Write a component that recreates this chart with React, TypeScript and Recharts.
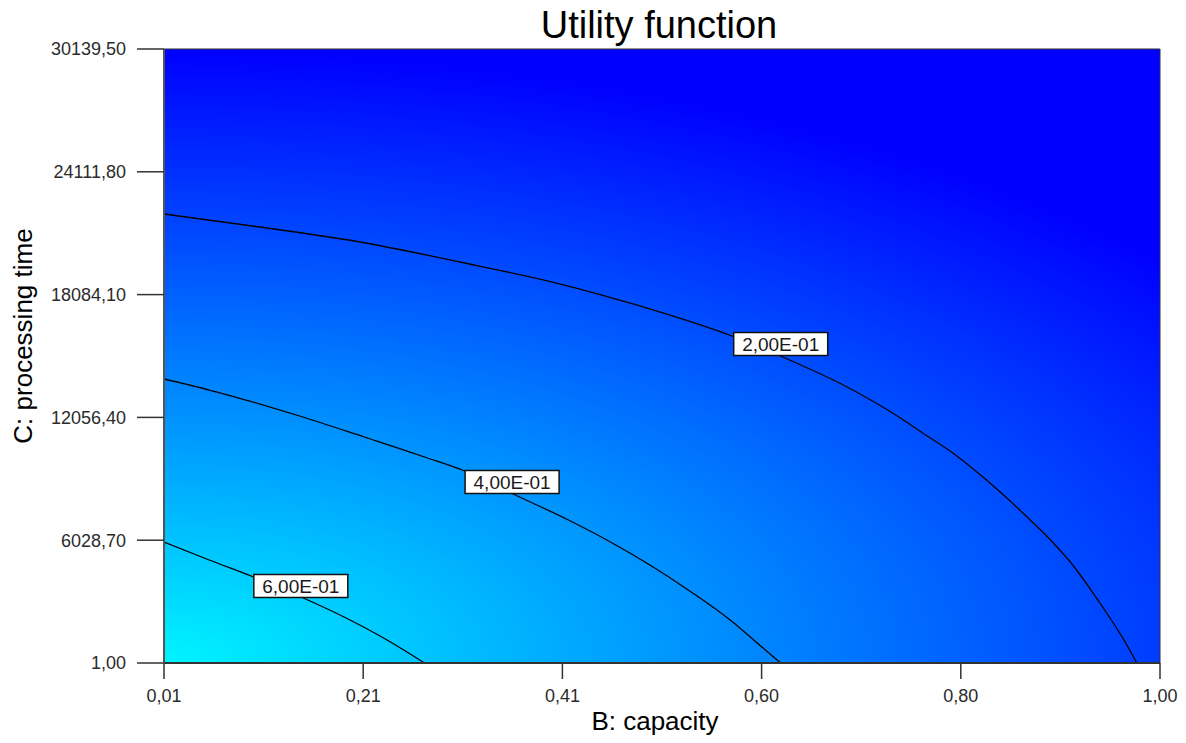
import React from 'react';
import {
  ComposedChart,
  Line,
  Scatter,
  XAxis,
  YAxis,
  ReferenceArea,
  Customized,
  Label,
} from 'recharts';

// Axis ticks
const xTickValues = [0.01, 0.208, 0.406, 0.604, 0.802, 1.0];
const xTickLabels = ['0,01', '0,21', '0,41', '0,60', '0,80', '1,00'];
const yTickValues = [1, 6028.7, 12056.4, 18084.1, 24111.8, 30139.5];
const yTickLabels = ['1,00', '6028,70', '12056,40', '18084,10', '24111,80', '30139,50'];

// Contour lines (B: capacity, C: processing time)
const contour02 = [
  { x: 0.01, y: 22040 },
  { x: 0.105, y: 21403 },
  { x: 0.205, y: 20666 },
  { x: 0.304, y: 19684 },
  { x: 0.404, y: 18604 },
  { x: 0.483, y: 17525 },
  { x: 0.577, y: 16003 },
  { x: 0.625, y: 15021 },
  { x: 0.689, y: 13549 },
  { x: 0.742, y: 12027 },
  { x: 0.764, y: 11291 },
  { x: 0.794, y: 10309 },
  { x: 0.831, y: 8836 },
  { x: 0.871, y: 7020 },
  { x: 0.894, y: 5891 },
  { x: 0.914, y: 4762 },
  { x: 0.93, y: 3682 },
  { x: 0.947, y: 2455 },
  { x: 0.963, y: 1228 },
  { x: 0.977, y: 1 },
];
const contour04 = [
  { x: 0.01, y: 13942 },
  { x: 0.055, y: 13401 },
  { x: 0.148, y: 12076 },
  { x: 0.209, y: 11094 },
  { x: 0.269, y: 10113 },
  { x: 0.309, y: 9426 },
  { x: 0.357, y: 8296 },
  { x: 0.412, y: 7020 },
  { x: 0.452, y: 5990 },
  { x: 0.493, y: 4811 },
  { x: 0.534, y: 3486 },
  { x: 0.574, y: 2063 },
  { x: 0.603, y: 835 },
  { x: 0.623, y: 1 },
];
const contour06 = [
  { x: 0.01, y: 5940 },
  { x: 0.055, y: 5057 },
  { x: 0.099, y: 4222 },
  { x: 0.144, y: 3290 },
  { x: 0.189, y: 2259 },
  { x: 0.23, y: 1179 },
  { x: 0.269, y: 1 },
];

// Contour label positions
const contourLabels = [
  { x: 0.623, y: 15659, label: '2,00E-01' },
  { x: 0.356, y: 8886, label: '4,00E-01' },
  { x: 0.146, y: 3781, label: '6,00E-01' },
];

const FONT = '"Liberation Sans", Arial, sans-serif';

const LabelBox = (props: any) => {
  const { cx, cy, payload } = props;
  if (cx == null || cy == null) return null;
  const w = 94;
  const h = 23;
  return (
    <g>
      <rect x={cx - w / 2} y={cy - h / 2} width={w} height={h} fill="#ffffff" stroke="#111" strokeWidth={1.5} />
      <text x={cx} y={cy} dy="0.36em" textAnchor="middle" fontFamily={FONT} fontSize={19} fill="#1a1a1a">
        {payload.label}
      </text>
    </g>
  );
};

const Title = () => (
  <text x={659} y={38} textAnchor="middle" fontFamily={FONT} fontSize={38} fill="#000">
    Utility function
  </text>
);

const YTitle = (props: any) => {
  const vb = props.viewBox || { x: 24, y: 49, width: 140, height: 614 };
  const cx = 22.5;
  const cy = vb.y + vb.height / 2 - 20;
  return (
    <text
      x={cx}
      y={cy}
      dy="0.36em"
      textAnchor="middle"
      transform={`rotate(-90 ${cx} ${cy})`}
      fontFamily={FONT}
      fontSize={26}
      fill="#000"
    >
      C: processing time
    </text>
  );
};

const XTitle = (props: any) => {
  const vb = props.viewBox || { x: 164, y: 663, width: 996, height: 72 };
  const cx = vb.x + vb.width / 2 - 7;
  return (
    <text x={cx} y={730} textAnchor="middle" fontFamily={FONT} fontSize={26} fill="#000">
      B: capacity
    </text>
  );
};

export default function App() {
  return (
    <div style={{ margin: '-8px 0 0 -8px', width: 1180, height: 735 }}>
      <ComposedChart
        width={1180}
        height={735}
        margin={{ top: 49, right: 20, bottom: 0, left: 24 }}
      >
        <defs>
          <radialGradient
            id="utilBg"
            cx="0"
            cy="1"
            r="1.33"
            fx="0"
            fy="1"
            gradientUnits="objectBoundingBox"
            gradientTransform="translate(0 1) scale(1 0.7485) translate(0 -1)"
          >
            <stop offset="0" stopColor="#00f4ff" />
            <stop offset="1" stopColor="#0000ff" />
          </radialGradient>
        </defs>
        <XAxis
          type="number"
          dataKey="x"
          domain={[0.01, 1]}
          ticks={xTickValues}
          tickFormatter={(v: number) => xTickLabels[xTickValues.indexOf(v)] ?? ''}
          allowDataOverflow
          height={72}
          tickSize={16}
          tickMargin={10}
          tick={{ fontFamily: FONT, fontSize: 18, fill: '#2b2b2b' }}
          tickLine={{ stroke: '#333', strokeWidth: 1.5 }}
          axisLine={{ stroke: '#333', strokeWidth: 2 }}
          interval={0}
        >
          <Label content={<XTitle />} />
        </XAxis>
        <YAxis
          type="number"
          dataKey="y"
          domain={[1, 30139.5]}
          ticks={yTickValues}
          tickFormatter={(v: number) => yTickLabels[yTickValues.indexOf(v)] ?? ''}
          allowDataOverflow
          width={140}
          tickSize={27}
          tickMargin={11}
          tick={{ fontFamily: FONT, fontSize: 18, fill: '#2b2b2b' }}
          tickLine={{ stroke: '#333', strokeWidth: 1.5 }}
          axisLine={{ stroke: '#555', strokeWidth: 2 }}
          interval={0}
        >
          <Label content={<YTitle />} />
        </YAxis>
        <ReferenceArea
          x1={0.01}
          x2={1}
          y1={1}
          y2={30139.5}
          fill="url(#utilBg)"
          fillOpacity={1}
          stroke="#333"
          strokeWidth={1}
          ifOverflow="visible"
        />
        <Line data={contour02} dataKey="y" type="monotone" stroke="#000" strokeWidth={1.3} dot={false} isAnimationActive={false} />
        <Line data={contour04} dataKey="y" type="monotone" stroke="#000" strokeWidth={1.3} dot={false} isAnimationActive={false} />
        <Line data={contour06} dataKey="y" type="monotone" stroke="#000" strokeWidth={1.3} dot={false} isAnimationActive={false} />
        <Scatter data={contourLabels} dataKey="y" shape={<LabelBox />} isAnimationActive={false} />
        <Customized component={Title} />
      </ComposedChart>
    </div>
  );
}
